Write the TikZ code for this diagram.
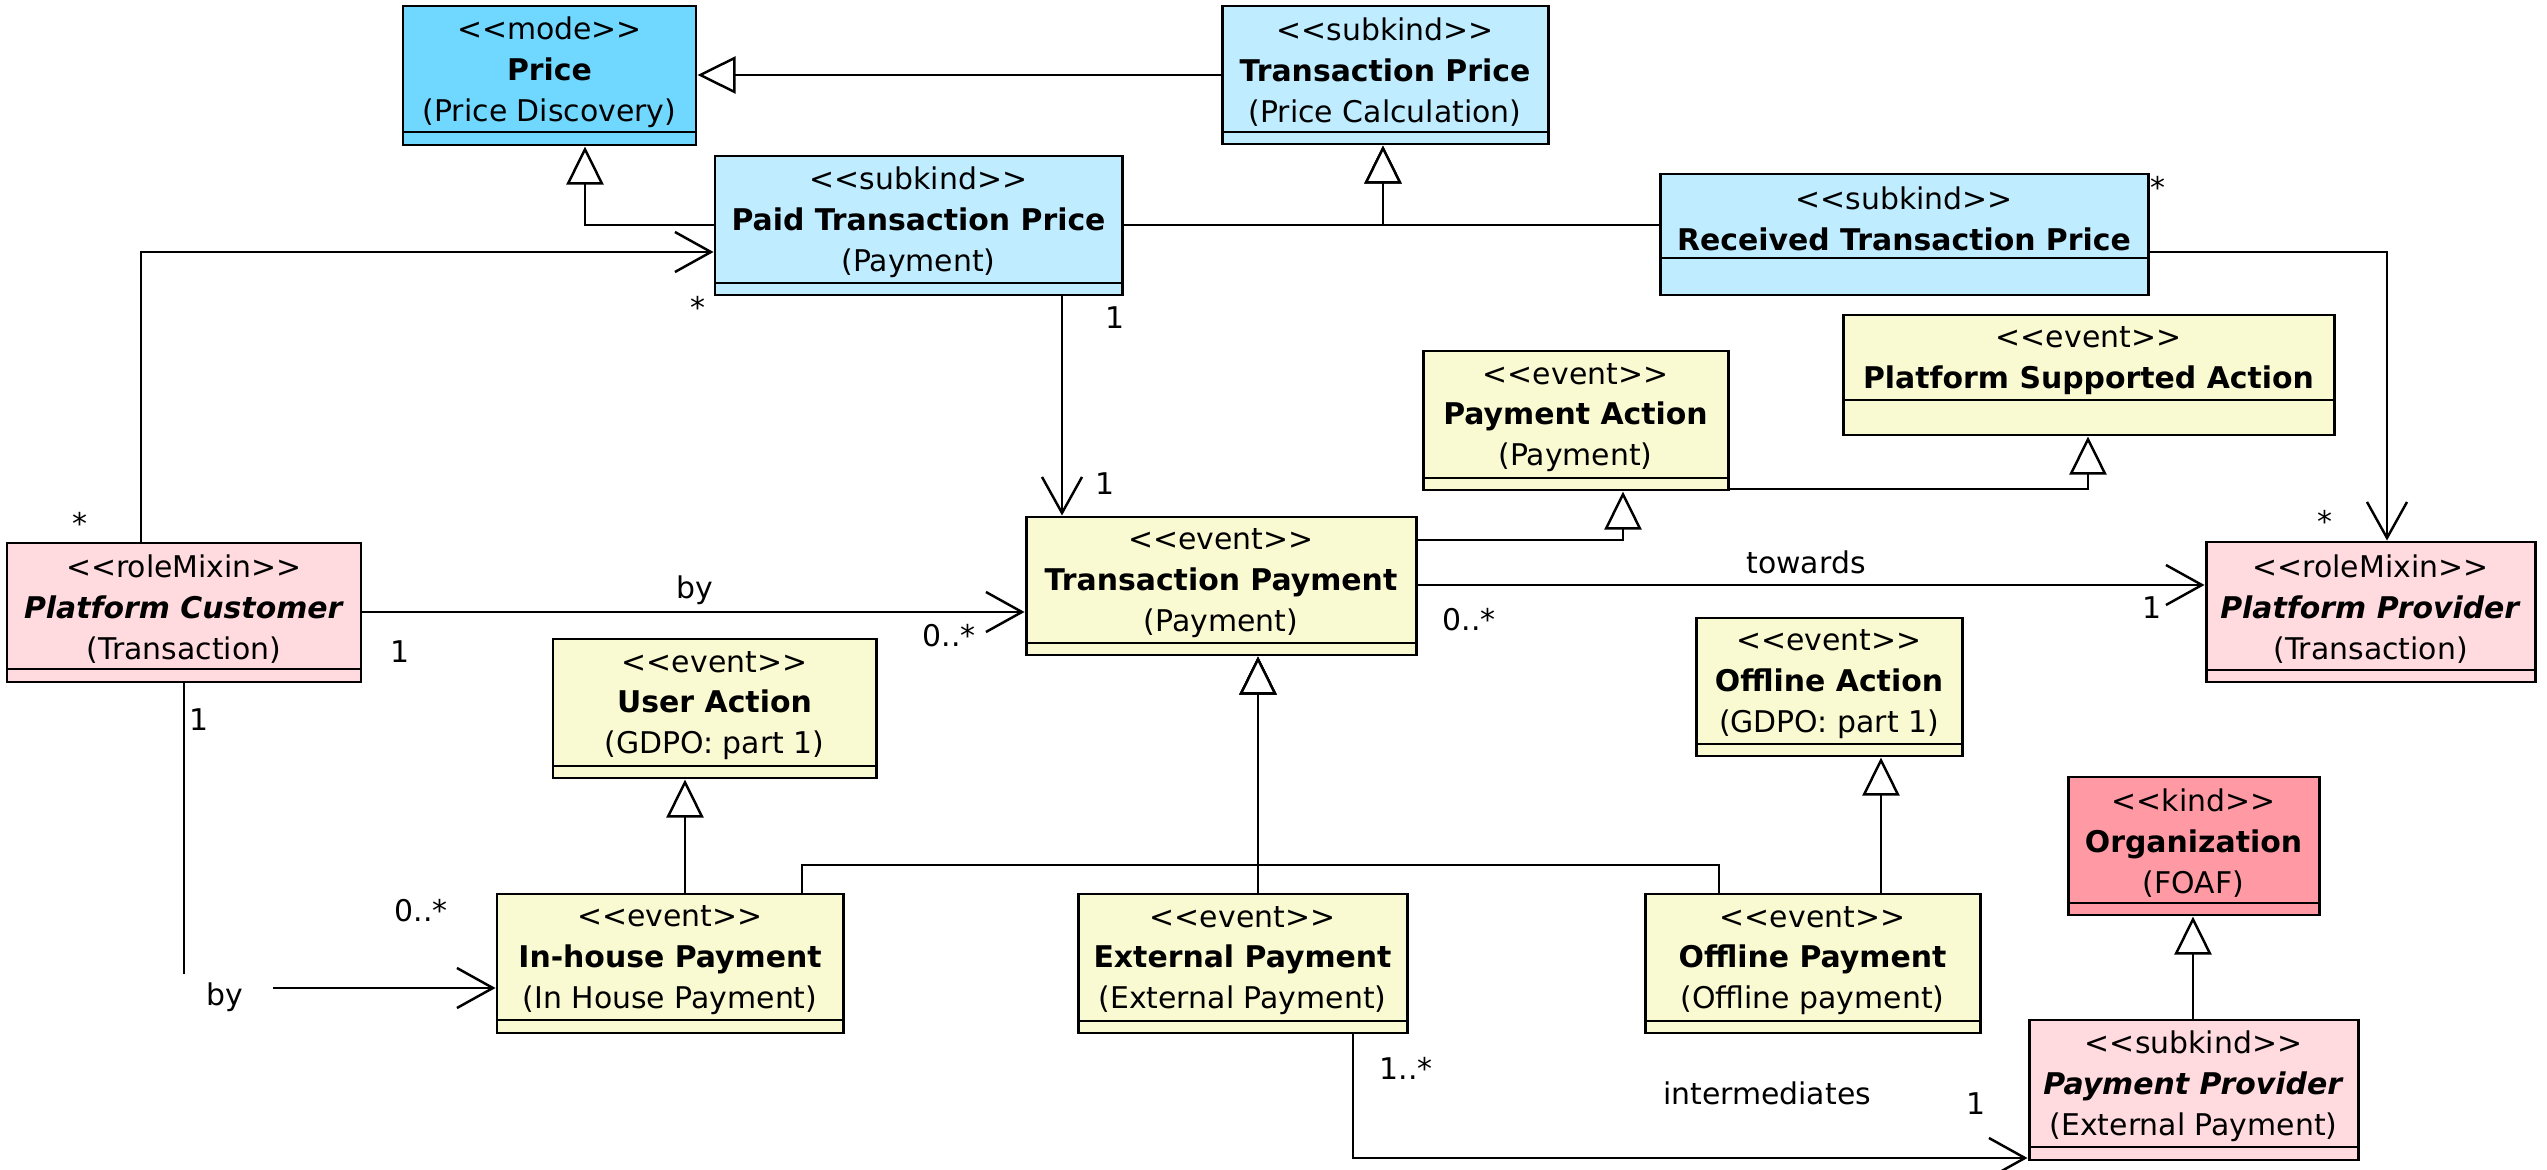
\documentclass[tikz,border=0pt]{standalone}
\usepackage{fontspec}
\setmainfont{DejaVu Sans}
\usetikzlibrary{arrows.meta,fit}
\definecolor{cmode}{RGB}{112,216,255}
\definecolor{csub}{RGB}{191,237,255}
\definecolor{cevt}{RGB}{250,250,210}
\definecolor{crole}{RGB}{255,218,222}
\definecolor{ckind}{RGB}{255,154,165}
\newcommand\st[1]{<{}<#1>{}>}
\newcommand\ufont{\fontsize{8.5}{11.6}\selectfont}
% name, fill, x1, y1, x2, y2, ybar, text
\newcommand\umlcls[8]{%
  \node[draw=black, line width=0.85pt, fill=#2, inner sep=0pt, fit={(#3,#4)(#5,#6)}] (#1) {};
  \draw[line width=0.85pt] (#3,#7) -- (#5,#7);
  \node[align=center, inner sep=0pt] at ({(#3+#5)/2},{(#4+#7)/2+3}) {#8};
}
\begin{document}
\begin{tikzpicture}[x=0.01cm, y=-0.01cm, font=\ufont,
  gen/.style={line width=0.7pt, -{Triangle[length=0.38cm,width=0.37cm,fill=white]}},
  assoc/.style={line width=0.7pt, -{Straight Barb[length=0.36cm,width=0.4cm]}},
  lbl/.style={inner sep=0pt}]
\useasboundingbox[fill=white] (0,0) rectangle (2547,1170);

\umlcls{price}{cmode}{403}{6}{696}{145}{132}{\st{mode}\\ \textbf{Price}\\ (Price Discovery)}
\umlcls{tpr}{csub}{1222}{6}{1548}{144}{132}{\st{subkind}\\ \textbf{Transaction Price}\\ (Price Calculation)}
\umlcls{paid}{csub}{715}{156}{1122}{295}{283}{\st{subkind}\\ \textbf{Paid Transaction Price}\\ (Payment)}
\umlcls{rtp}{csub}{1660}{174}{2148}{295}{258}{\st{subkind}\\ \textbf{Received Transaction Price}}
\umlcls{pa}{cevt}{1423}{351}{1728}{490}{478}{\st{event}\\ \textbf{Payment Action}\\ (Payment)}
\umlcls{psa}{cevt}{1843}{315}{2334}{435}{400}{\st{event}\\ \textbf{Platform Supported Action}}
\umlcls{cust}{crole}{7}{543}{361}{682}{669}{\st{roleMixin}\\ \textbf{\textit{Platform Customer}}\\ (Transaction)}
\umlcls{tp}{cevt}{1026}{517}{1416}{655}{643}{\st{event}\\ \textbf{Transaction Payment}\\ (Payment)}
\umlcls{ua}{cevt}{553}{639}{876}{778}{766}{\st{event}\\ \textbf{User Action}\\ (GDPO: part 1)}
\umlcls{pp}{crole}{2206}{542}{2535}{682}{670}{\st{roleMixin}\\ \textbf{\textit{Platform Provider}}\\ (Transaction)}
\umlcls{ofa}{cevt}{1696}{618}{1962}{756}{744}{\st{event}\\ \textbf{Offline Action}\\ (GDPO: part 1)}
\umlcls{org}{ckind}{2068}{777}{2319}{915}{903}{\st{kind}\\ \textbf{Organization}\\ (FOAF)}
\umlcls{inh}{cevt}{497}{894}{843}{1033}{1020}{\st{event}\\ \textbf{In-house Payment}\\ (In House Payment)}
\umlcls{ext}{cevt}{1078}{894}{1407}{1033}{1021}{\st{event}\\ \textbf{External Payment}\\ (External Payment)}
\umlcls{ofp}{cevt}{1645}{894}{1980}{1033}{1021}{\st{event}\\ \textbf{Offline Payment}\\ (Offline payment)}
\umlcls{ppr}{crole}{2029}{1020}{2358}{1160}{1147}{\st{subkind}\\ \textbf{\textit{Payment Provider}}\\ (External Payment)}

% generalizations
\draw[gen] (tpr.west |- 0,75) -- (price.east |- 0,75);
\draw[gen] (paid.west |- 0,225) -| (585,0 |- price.south);
\draw[gen] (paid.east |- 0,225) -| (1383,0 |- tpr.south);
\draw[gen] (rtp.west |- 0,225) -| (1383,0 |- tpr.south);
\draw[gen] (tp.east |- 0,540) -| (1623,0 |- pa.south);
\draw[gen] (pa.east |- 0,489) -| (2088,0 |- psa.south);
\draw[gen] (685,0 |- inh.north) -- (685,0 |- ua.south);
\draw[gen] (802,0 |- inh.north) |- (1258,865) -- (1258,0 |- tp.south);
\draw[gen] (1258,0 |- ext.north) -- (1258,0 |- tp.south);
\draw[gen] (1719,0 |- ofp.north) |- (1258,865) -- (1258,0 |- tp.south);
\draw[gen] (1881,0 |- ofp.north) -- (1881,0 |- ofa.south);
\draw[gen] (2193,0 |- ppr.north) -- (2193,0 |- org.south);

% associations
\draw[assoc] (141,0 |- cust.north) |- (paid.west |- 0,252);
\draw[assoc] (1062,0 |- paid.south) -- (1062,0 |- tp.north);
\draw[assoc] (rtp.east |- 0,252) -| (2387,0 |- pp.north);
\draw[assoc] (cust.east |- 0,612) -- (tp.west |- 0,612);
\draw[assoc] (tp.east |- 0,585) -- (pp.west |- 0,585);
\draw[assoc] (184,0 |- cust.south) |- (inh.west |- 0,988);
\draw[assoc] (1353,0 |- ext.south) |- (ppr.west |- 0,1158);

% labels
\node[lbl] (m1) at (80,523) {*};
\node[lbl] (m2) at (698,307) {*};
\node[lbl] (m3) at (1115,318) {1};
\node[lbl] (m4) at (1105,484) {1};
\node[lbl] (m5) at (2158,187) {*};
\node[lbl] (m6) at (2325,521) {*};
\node[lbl] (l1) at (695,590) {by};
\node[lbl] (m7) at (400,652) {1};
\node[lbl] (m8) at (949,636) {0..*};
\node[lbl] (l2) at (1806,562) {towards};
\node[lbl] (m9) at (1469,620) {0..*};
\node[lbl] (m10) at (2152,608) {1};
\node[lbl] (m11) at (199,720) {1};
\node[lbl] (m12) at (421,911) {0..*};
\node[fill=white, inner sep=0pt, minimum width=0.95cm, minimum height=0.46cm] (l3) at (225,997) {by};
\node[lbl] (m13) at (1406,1068) {1..*};
\node[lbl] (l4) at (1767,1093) {intermediates};
\node[lbl] (m14) at (1976,1104) {1};
\end{tikzpicture}
\end{document}
